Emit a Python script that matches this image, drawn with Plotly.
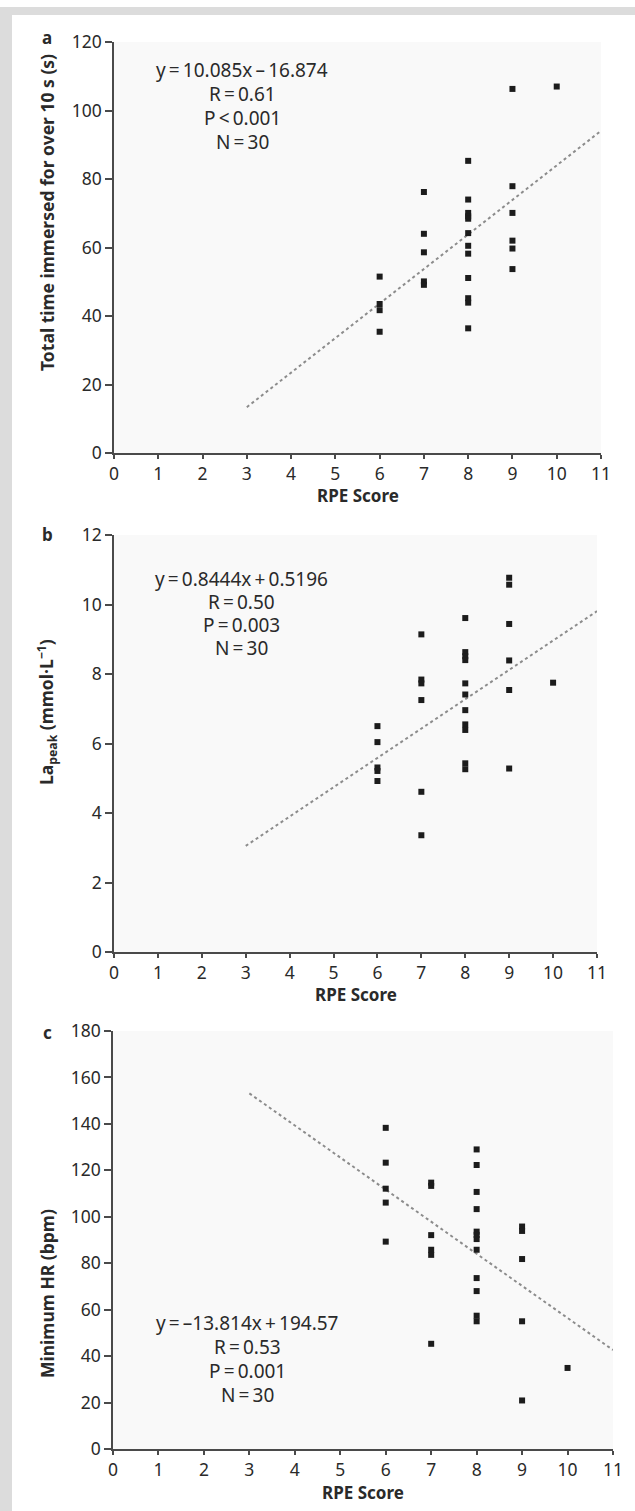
import plotly.graph_objects as go

W, H = 635, 1511

# ---------------- data ----------------
rpe_a = [6, 6, 6, 6,
         7, 7, 7, 7, 7,
         8, 8, 8, 8, 8, 8, 8, 8, 8, 8, 8, 8,
         9, 9, 9, 9, 9, 9,
         10]
time_a = [51.5, 43.5, 41.7, 35.4,
          76.2, 64.0, 58.6, 50.1, 49.1,
          85.3, 74.0, 70.1, 69.1, 68.4, 64.2, 60.5, 58.2, 51.1, 45.2, 43.9, 36.4,
          106.3, 77.9, 70.1, 62.0, 59.7, 53.7,
          107.0]

rpe_b = [6, 6, 6, 6, 6,
         7, 7, 7, 7, 7, 7,
         8, 8, 8, 8, 8, 8, 8, 8, 8, 8, 8,
         9, 9, 9, 9, 9, 9,
         10]
la_b = [6.50, 6.04, 5.31, 5.21, 4.92,
        9.14, 7.84, 7.73, 7.25, 4.61, 3.36,
        9.61, 8.63, 8.51, 8.40, 7.73, 7.41, 6.96, 6.55, 6.39, 5.43, 5.26,
        10.77, 10.57, 9.44, 8.39, 7.54, 5.28,
        7.75]

rpe_c = [6, 6, 6, 6, 6,
         7, 7, 7, 7, 7, 7,
         8, 8, 8, 8, 8, 8, 8, 8, 8, 8, 8, 8,
         9, 9, 9, 9, 9,
         10]
hr_c = [138.3, 123.3, 112.1, 106.1, 89.3,
        114.7, 113.3, 92.1, 85.8, 83.6, 45.3,
        129.0, 122.3, 110.7, 103.3, 93.6, 92.2, 90.4, 85.8, 73.6, 68.0, 57.4, 55.0,
        95.8, 93.9, 81.8, 55.0, 20.9,
        34.9]

# regression lines (as printed on the chart)
slope_a, icpt_a = 10.085, -16.874
slope_b, icpt_b = 0.8444, 0.5196
slope_c, icpt_c = -13.814, 194.57
fit_x = [3, 11]

stats_a = ["y\u2009=\u200910.085x\u2009\u2013\u200916.874", "R\u2009=\u20090.61", "P\u2009<\u20090.001", "N\u2009=\u200930"]
stats_b = ["y\u2009=\u20090.8444x\u2009+\u20090.5196", "R\u2009=\u20090.50", "P\u2009=\u20090.003", "N\u2009=\u200930"]
stats_c = ["y\u2009=\u2009\u201313.814x\u2009+\u2009194.57", "R\u2009=\u20090.53", "P\u2009=\u20090.001", "N\u2009=\u200930"]

x_ticks = list(range(0, 12))
y_ticks_a = list(range(0, 121, 20))
y_ticks_b = list(range(0, 13, 2))
y_ticks_c = list(range(0, 181, 20))

ytitle_a = "<b>Total time immersed for over 10 s (s)</b>"
ytitle_b = "<b>La<sub>peak</sub> (mmol\u00b7L<sup>\u22121</sup>)</b>"
ytitle_c = "<b>Minimum HR (bpm)</b>"
xtitle = "<b>RPE Score</b>"

# ---------------- style / layout ----------------
FONT = "Noto Sans, Open Sans, Liberation Sans, sans-serif"
TXT = "#2a2a2a"
AX = "#4a4a4a"

def px_x(p):
    return p / W

def px_y(p):
    return 1 - p / H

panels = [
    dict(x=rpe_a, y=time_a, s=slope_a, b=icpt_a, yr=[0, 120], yt=y_ticks_a,
         xd=[114, 601], yd=[42, 453], stats=stats_a, sx=242, sy=[70, 94, 118, 142],
         ytitle=ytitle_a, ytpos=213, xtpos=(358, 496), lab="a", labpos=(47, 37)),
    dict(x=rpe_b, y=la_b, s=slope_b, b=icpt_b, yr=[0, 12], yt=y_ticks_b,
         xd=[114, 597], yd=[535, 952], stats=stats_b, sx=241, sy=[579, 602, 625, 648],
         ytitle=ytitle_b, ytpos=712, xtpos=(356, 994), lab="b", labpos=(47, 534)),
    dict(x=rpe_c, y=hr_c, s=slope_c, b=icpt_c, yr=[0, 180], yt=y_ticks_c,
         xd=[113, 613], yd=[1031, 1449], stats=stats_c, sx=247, sy=[1323, 1347, 1371, 1395],
         ytitle=ytitle_c, ytpos=1294, xtpos=(363, 1492), lab="c", labpos=(47, 1032)),
]

fig = go.Figure()
annotations = []
layout_axes = {}

for i, p in enumerate(panels):
    n = "" if i == 0 else str(i + 1)
    xa, ya = "x" + n, "y" + n
    fig.add_trace(go.Scatter(
        x=fit_x, y=[p["s"] * v + p["b"] for v in fit_x], mode="lines",
        line=dict(color="#8c8c8c", width=2, dash="3px,3px"),
        xaxis=xa, yaxis=ya, showlegend=False, hoverinfo="skip"))
    fig.add_trace(go.Scatter(
        x=p["x"], y=p["y"], mode="markers",
        marker=dict(symbol="square", size=6, color="#1c1c1c", line=dict(width=0)),
        xaxis=xa, yaxis=ya, showlegend=False))

    common = dict(showline=True, linecolor=AX, linewidth=1.5, ticks="outside",
                  tickcolor=AX, tickwidth=1.5, showgrid=False,
                  zeroline=False, automargin=False,
                  tickfont=dict(family=FONT, size=17.5, color=TXT))
    layout_axes["xaxis" + n] = dict(common, range=[0, 11], tickvals=x_ticks, ticklen=4,
                                    domain=[px_x(p["xd"][0]), px_x(p["xd"][1])],
                                    anchor=ya, fixedrange=True)
    layout_axes["yaxis" + n] = dict(common, range=p["yr"], tickvals=p["yt"], ticklen=7,
                                    domain=[px_y(p["yd"][1]), px_y(p["yd"][0])],
                                    anchor=xa, fixedrange=True)

    for txt, yy in zip(p["stats"], p["sy"]):
        annotations.append(dict(text=txt, x=px_x(p["sx"]), y=px_y(yy), xref="paper",
                                yref="paper", xanchor="center", yanchor="middle",
                                showarrow=False, font=dict(family=FONT, size=19, color=TXT)))
    annotations.append(dict(text=p["ytitle"], x=px_x(47), y=px_y(p["ytpos"]), xref="paper",
                            yref="paper", xanchor="center", yanchor="middle", textangle=-90,
                            showarrow=False, font=dict(family=FONT, size=17.5, color=TXT)))
    annotations.append(dict(text=xtitle, x=px_x(p["xtpos"][0]), y=px_y(p["xtpos"][1]),
                            xref="paper", yref="paper", xanchor="center", yanchor="middle",
                            showarrow=False, font=dict(family=FONT, size=17, color=TXT)))
    annotations.append(dict(text="<b>" + p["lab"] + "</b>", x=px_x(p["labpos"][0]),
                            y=px_y(p["labpos"][1]), xref="paper", yref="paper",
                            xanchor="center", yanchor="middle", showarrow=False,
                            font=dict(family=FONT, size=17, color=TXT)))

shapes = [
    dict(type="rect", xref="paper", yref="paper", x0=0, x1=1, y0=px_y(15), y1=px_y(7),
         fillcolor="#dcdcdc", line=dict(width=0), layer="below"),
    dict(type="rect", xref="paper", yref="paper", x0=0, x1=px_x(12), y0=0, y1=px_y(7),
         fillcolor="#dcdcdc", line=dict(width=0), layer="below"),
]

fig.update_layout(
    width=W, height=H, margin=dict(l=0, r=0, t=0, b=0, pad=0), autosize=False,
    paper_bgcolor="#ffffff", plot_bgcolor="#f9f9f9",
    annotations=annotations, shapes=shapes, showlegend=False,
    font=dict(family=FONT, color=TXT),
    **layout_axes,
)

fig.write_html(
    "out.html",
    config={"displayModeBar": False, "responsive": False},
    post_script="document.body.style.margin='0';document.body.style.padding='0';"
                "document.body.style.overflow='hidden';",
)
